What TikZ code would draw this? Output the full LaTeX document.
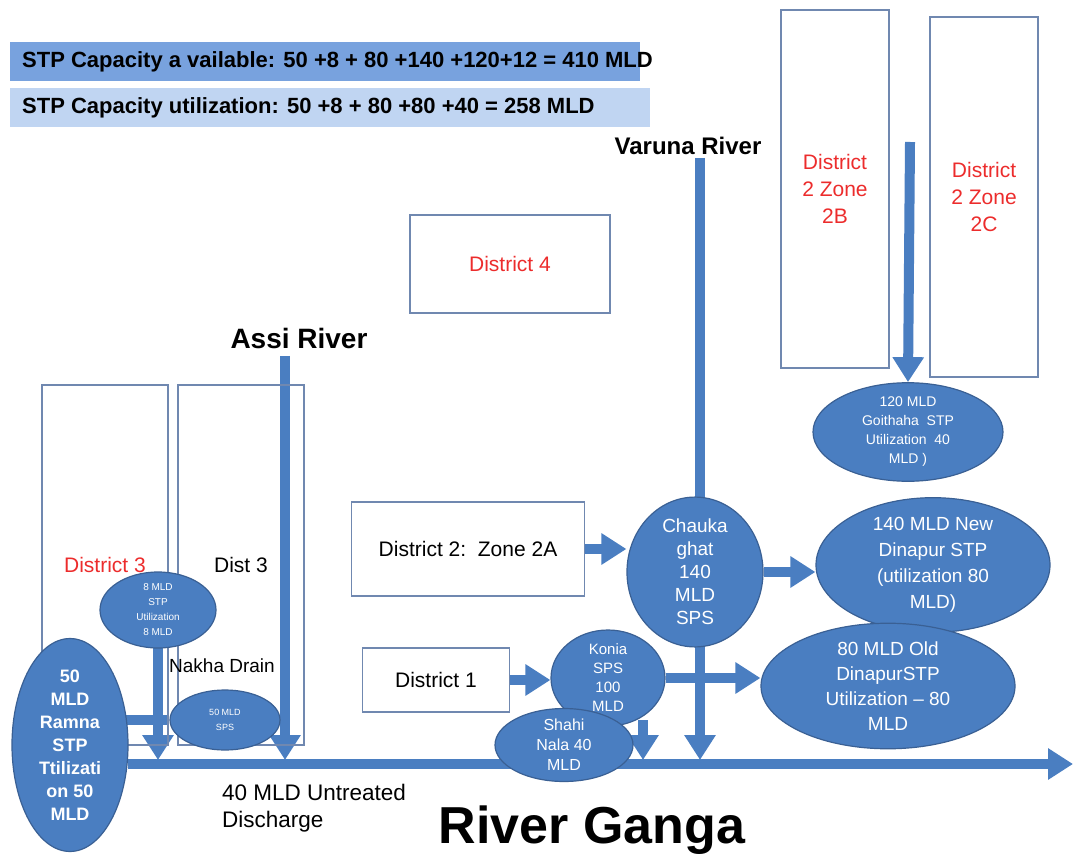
\documentclass[tikz,border=0pt]{standalone}
\usepackage{fontspec}
\setmainfont{Liberation Sans}
\usetikzlibrary{shapes.geometric,arrows.meta,backgrounds}

\definecolor{pipeblue}{RGB}{74,126,193}
\definecolor{plantedge}{RGB}{58,96,148}
\definecolor{boxedge}{RGB}{112,136,176}
\definecolor{distred}{RGB}{236,44,44}
\definecolor{bannerA}{RGB}{120,162,222}
\definecolor{bannerB}{RGB}{192,213,242}

\tikzstyle{district} = [rectangle, draw=boxedge, line width=1.5pt, align=center, inner sep=0pt]
\tikzstyle{plant} = [ellipse, draw=plantedge, line width=1.2pt, fill=pipeblue, text=white, align=center, inner sep=0pt]
\tikzstyle{banner} = [rectangle, anchor=west, inner sep=0pt, minimum height=39pt]
\tikzstyle{flow} = [line width=10pt, draw=pipeblue, -{Triangle[length=25pt,width=30pt]}]
\tikzstyle{pipe} = [line width=10pt, draw=pipeblue]

\begin{document}
\begin{tikzpicture}[x=1pt, y=-1pt]
      \useasboundingbox (0,0) rectangle (1073,858);

      \node (capA) [banner, fill=bannerA, minimum width=630pt] at (10,62) {};
      \node (capB) [banner, fill=bannerB, minimum width=640pt] at (10,108) {};
      \node (capAtxt) [anchor=west, inner sep=0pt, font=\bfseries\fontsize{22}{26}\selectfont] at (22,62) {STP Capacity a vailable: 50 +8 + 80 +140 +120+12 = 410 MLD};
      \node (capBtxt) [anchor=west, inner sep=0pt, font=\bfseries\fontsize{22}{26}\selectfont] at (22,108) {STP Capacity utilization: 50 +8 + 80 +80 +40 = 258 MLD};

      \node (d4) [district, minimum width=200pt, minimum height=98pt, text=distred, font=\fontsize{21}{27}\selectfont] at (510,264) {District 4};
      \node (zone2b) [district, minimum width=108pt, minimum height=358pt, text=distred, font=\fontsize{21}{27}\selectfont] at (835,189) {District\\2 Zone\\2B};
      \node (zone2c) [district, minimum width=108pt, minimum height=360pt, text=distred, font=\fontsize{21}{27}\selectfont] at (984,197) {District\\2 Zone\\2C};
      \node (dist3red) [district, minimum width=126pt, minimum height=360pt, text=distred, font=\fontsize{21}{27}\selectfont] at (105,565) {District 3};
      \node (dist3) [district, minimum width=126pt, minimum height=360pt, font=\fontsize{21}{27}\selectfont] at (241,565) {Dist 3};
      \node (zone2a) [district, minimum width=233pt, minimum height=94pt, font=\fontsize{21}{27}\selectfont] at (468,549) {District 2:\ \ Zone 2A};
      \node (d1) [district, minimum width=147pt, minimum height=64pt, font=\fontsize{21}{27}\selectfont] at (436,680) {District 1};

      \node (varuna) [font=\bfseries\fontsize{24}{28}\selectfont] at (688,146) {Varuna River};
      \node (assi) [font=\bfseries\fontsize{28}{32}\selectfont] at (299,338) {Assi River};
      \node (nakha) [font=\fontsize{19}{23}\selectfont] at (222,666) {Nakha Drain};
      \node (untreated) [anchor=west, align=left, inner sep=0pt, font=\fontsize{22.5}{27}\selectfont] at (222,808) {40 MLD Untreated\\Discharge};
      \node (ganga) [font=\bfseries\fontsize{52}{56}\selectfont] at (592,830) {River Ganga};

      \node (goithaha) [plant, minimum width=190pt, minimum height=90pt, font=\fontsize{14}{19}\selectfont] at (908,432) {120 MLD\\Goithaha\ \ STP\\Utilization\ \ 40\\MLD )};
      \node (chauka) [plant, minimum width=136pt, minimum height=122pt, font=\fontsize{19}{23}\selectfont] at (695,572) {Chauka\\ghat\\140\\MLD\\SPS};
      \node (newdin) [plant, minimum width=234pt, minimum height=104pt, font=\fontsize{19}{26}\selectfont] at (933,565) {140 MLD New\\Dinapur STP\\(utilization 80\\MLD)};
      \node (olddin) [plant, minimum width=254pt, minimum height=90pt, font=\fontsize{19}{25}\selectfont] at (888,686) {80 MLD Old\\DinapurSTP\\Utilization -- 80\\MLD};
      \node (konia) [plant, minimum width=114pt, minimum height=72pt, font=\fontsize{15}{19}\selectfont] at (608,678) {Konia\\SPS\\100\\MLD};
      \node (shahi) [plant, minimum width=138pt, minimum height=56pt, font=\fontsize{16}{20}\selectfont] at (564,745) {Shahi\\Nala 40\\MLD};
      \node (stp8) [plant, minimum width=116pt, minimum height=76pt, font=\fontsize{10}{15}\selectfont] at (158,610) {8 MLD\\STP\\Utilization\\8 MLD};
      \node (sps50) [plant, minimum width=110pt, minimum height=60pt, font=\fontsize{9}{15}\selectfont] at (225,720) {50 MLD\\SPS};
      \node (ramna) [plant, minimum width=116pt, minimum height=200pt, font=\bfseries\fontsize{18}{23}\selectfont] at (70,745) {50\\MLD\\Ramna\\STP\\Ttilizati\\on 50\\MLD};

      \coordinate (gangaL) at (128,764);
      \coordinate (gangaR) at (1073,764);
      \coordinate (varunatop) at (700,158);
      \coordinate (assitop) at (285,356);
      \coordinate (zonetop) at (910,142);
      \coordinate (shahitop) at (643,720);

      \begin{scope}[on background layer]
        \draw [pipe] (ramna.center |- sps50) -- (sps50);
        \draw [flow] (varunatop) -- (700,760);
        \draw [flow] (assitop) -- (285,760);
        \draw [flow] (stp8.center) -- (158,760);
        \draw [flow] (zonetop) -- (goithaha.north);
        \draw [flow] (shahitop) -- (643,760);
        \draw [flow] (zone2a.east) -- (zone2a.east -| chauka.west);
        \draw [flow] (chauka.east) -- (chauka.east -| newdin.west);
        \draw [flow] (d1.east) -- (d1.east -| konia.west);
        \draw [flow] (konia.east) -- (konia.east -| olddin.west);
        \draw [flow] (gangaL) -- (gangaR);
      \end{scope}
    \end{tikzpicture}
\end{document}
